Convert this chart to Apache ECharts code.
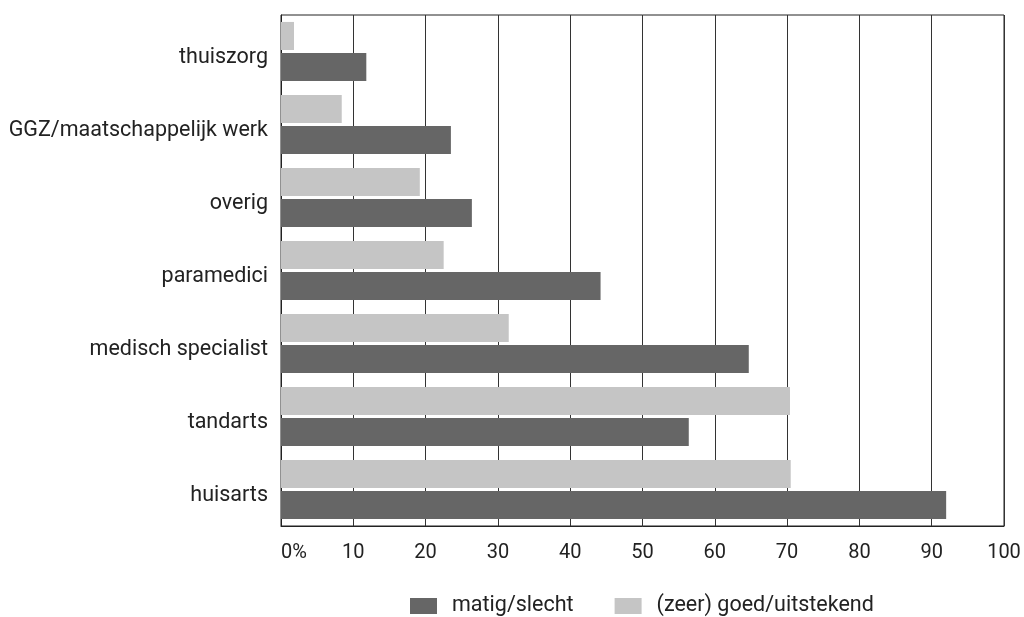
<!DOCTYPE html>
<html>
<head>
<meta charset="utf-8">
<script src="https://cdn.jsdelivr.net/npm/echarts@6/dist/echarts.min.js"></script>
<style>
  html, body { margin: 0; padding: 0; background: #fff; }
  #chart { width: 1024px; height: 617px; }
</style>
</head>
<body>
<div id="chart"></div>
<script>
// categories, bottom to top as on the axis
var categories = ['huisarts', 'tandarts', 'medisch specialist', 'paramedici', 'overig', 'GGZ/maatschappelijk werk', 'thuiszorg'];
var seriesNames = ['matig/slecht', '(zeer) goed/uitstekend'];
var matigSlecht = [92.0, 56.4, 64.7, 44.2, 26.4, 23.5, 11.8];
var goedUitstekend = [70.5, 70.4, 31.5, 22.5, 19.2, 8.4, 1.8];
var xTicks = [0, 10, 20, 30, 40, 50, 60, 70, 80, 90, 100];

var font = 'Roboto, "Open Sans", sans-serif';
var textColor = '#222';
var fs = 21.5;

var chart = echarts.init(document.getElementById('chart'));
chart.setOption({
    animation: false,
    textStyle: { fontFamily: font },
    grid: {
        left: 281,
        right: 20,
        top: 15,
        bottom: 91,
        show: true,
        borderColor: '#222',
        borderWidth: 1
    },
    legend: {
        data: seriesNames,
        left: 405,
        top: 590,
        itemWidth: 27,
        itemHeight: 16,
        itemGap: 41,
        icon: 'rect',
        textStyle: { fontSize: fs, color: textColor, fontFamily: font, padding: [0, 0, 0, 10] }
    },
    xAxis: {
        type: 'value',
        min: xTicks[0],
        max: xTicks[xTicks.length - 1],
        interval: 10,
        axisLine: { show: true, lineStyle: { color: '#222', width: 1 } },
        axisTick: { show: false },
        splitLine: { show: true, lineStyle: { color: '#333', width: 1 } },
        axisLabel: {
            color: textColor,
            fontSize: 20,
            fontFamily: font,
            margin: 17,
            alignMinLabel: 'left',
            formatter: function (v) { return v === 0 ? '0%' : String(v); }
        }
    },
    yAxis: {
        type: 'category',
        data: categories,
        axisLine: { show: true, lineStyle: { color: '#222', width: 1 } },
        axisTick: { show: false },
        // labels sit a little below the band centre in the original
        axisLabel: { color: textColor, fontSize: fs, fontFamily: font, margin: 13, verticalAlign: 'top', lineHeight: 12 }
    },
    // light series first so it sits above the dark bar in each band
    series: [
        {
            name: seriesNames[1],
            type: 'bar',
            data: goedUitstekend,
            itemStyle: { color: '#c5c5c5' },
            barGap: '10.7%',
            barCategoryGap: '19%'
        },
        {
            name: seriesNames[0],
            type: 'bar',
            data: matigSlecht,
            itemStyle: { color: '#666666' },
            barGap: '10.7%',
            barCategoryGap: '19%'
        }
    ]
});
</script>
</body>
</html>
